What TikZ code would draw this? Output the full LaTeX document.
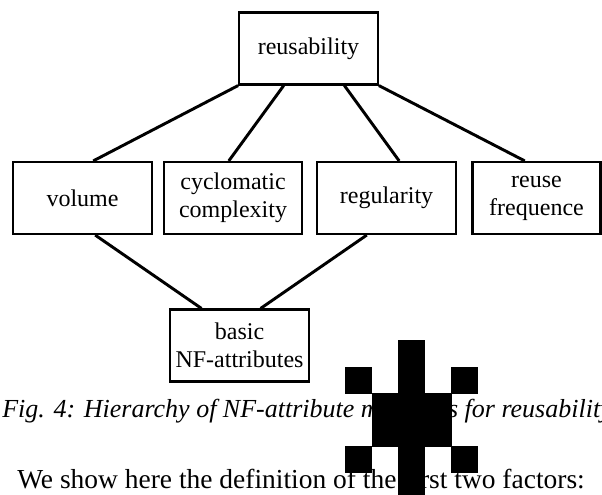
\documentclass[tikz,border=0pt]{standalone}
\usepackage{fontspec}
\setmainfont{Liberation Serif}
\usetikzlibrary{calc}

\begin{document}
\begin{tikzpicture}
	[x=0.75pt,y=-0.75pt,
	 box/.style={draw,line width=1.6pt,minimum width=104pt,minimum height=54pt,
	             inner sep=0pt,align=center,font=\fontsize{18}{21}\selectfont},
	 link/.style={line width=2.2pt}]
	\useasboundingbox (0,0) rectangle (602,495);
	% boxes
	\node[box] (reus) at (308.5,48.5) {reusability};
	\node[box] (vol) at (82.5,198) {volume};
	\node[box] (cyc) at (233,198) {cyclomatic\\complexity};
	\node[box] (reg) at (386.5,198) {regularity};
	\node[box,minimum width=96pt] (freq) at (536.5,198) {reuse\\frequence};
	\node[box] (basic) at (239.5,345.5) {basic\\NF-attributes};
	% upper links
	\draw[link] (reus.south west) -- ($(vol.north west)!0.576!(vol.north east)$);
	\draw[link] ($(reus.south west)!0.324!(reus.south east)$) -- ($(cyc.north west)!0.47!(cyc.north east)$);
	\draw[link] ($(reus.south west)!0.755!(reus.south east)$) -- ($(reg.north west)!0.59!(reg.north east)$);
	\draw[link] (reus.south east) -- ($(freq.north west)!0.41!(freq.north east)$);
	% lower links
	\draw[link] ($(vol.south west)!0.59!(vol.south east)$) -- ($(basic.north west)!0.23!(basic.north east)$);
	\draw[link] ($(reg.south west)!0.36!(reg.south east)$) -- ($(basic.north west)!0.65!(basic.north east)$);
	% text
	\node[anchor=base west,inner sep=0pt,font=\fontsize{19.5}{22}\selectfont\itshape] (cap) at (2,417)
		{Fig. 4: Hierarchy of NF-attribute measures for reusability};
	\node[anchor=base west,inner sep=0pt,font=\fontsize{20.6}{24}\selectfont] (body) at (17,488)
		{We show here the definition of the first two factors:};
	% blot
	\foreach \c/\r in {2/0,0/1,2/1,4/1,1/2,2/2,3/2,1/3,2/3,3/3,0/4,2/4,4/4,2/5}
		\fill (345+26.6*\c,340+26.6*\r) rectangle ++(27,27);
\end{tikzpicture}
\end{document}
